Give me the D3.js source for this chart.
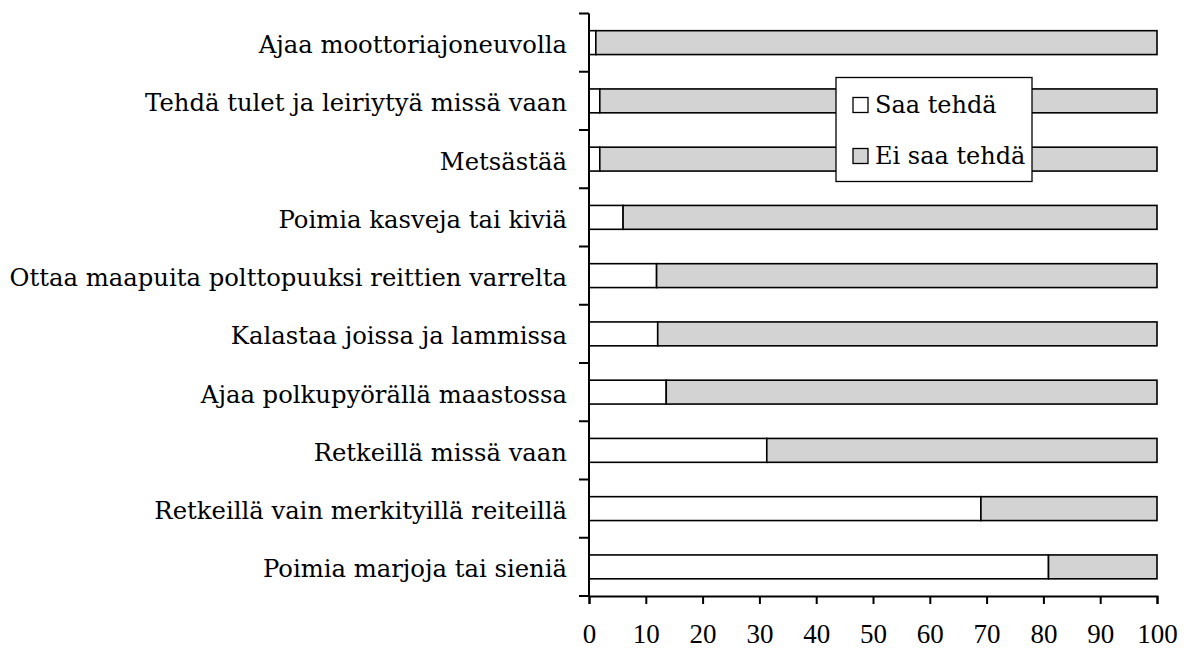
<!DOCTYPE html>
<html>
<head>
<meta charset="utf-8">
<script src="https://cdn.jsdelivr.net/npm/d3@7"></script>
<style>
  html, body { margin: 0; padding: 0; background: #fff; }
  svg text { font-family: "DejaVu Serif", "Liberation Serif", serif; fill: #000; }
</style>
</head>
<body>
<svg id="chart" width="1186" height="649"></svg>
<script>
// Activities, listed top to bottom
const categories = [
  "Ajaa moottoriajoneuvolla",
  "Tehdä tulet ja leiriytyä missä vaan",
  "Metsästää",
  "Poimia kasveja tai kiviä",
  "Ottaa maapuita polttopuuksi reittien varrelta",
  "Kalastaa joissa ja lammissa",
  "Ajaa polkupyörällä maastossa",
  "Retkeillä missä vaan",
  "Retkeillä vain merkityillä reiteillä",
  "Poimia marjoja tai sieniä"
];
// Share (%) answering "allowed"
const saaTehda = [1.2, 1.9, 1.9, 6.0, 11.9, 12.1, 13.6, 31.3, 69.0, 80.9];
// Share (%) answering "not allowed"
const eiSaaTehda = [98.8, 98.1, 98.1, 94.0, 88.1, 87.9, 86.4, 68.7, 31.0, 19.1];
const seriesNames = ["Saa tehdä", "Ei saa tehdä"];
const xTicks = [0, 10, 20, 30, 40, 50, 60, 70, 80, 90, 100];

const svg = d3.select("#chart");
const margin = { left: 589, top: 13.5, right: 29, bottom: 53 };
const W = 1186, H = 649;
const innerW = W - margin.left - margin.right;
const innerH = H - margin.top - margin.bottom;
const fills = ["#ffffff", "#d3d3d3"];
const labelSize = 24.3;

const g = svg.append("g").attr("transform", `translate(${margin.left},${margin.top})`);

const x = d3.scaleLinear().domain([0, 100]).range([0, innerW]);
const y = d3.scaleBand().domain(categories).range([0, innerH]).padding(0);
const barH = y.bandwidth() * 0.41;

// Stacked rows
const rows = categories.map((c, i) => ({ cat: c, saa: saaTehda[i], ei: eiSaaTehda[i] }));
const stack = d3.stack().keys(["saa", "ei"])(rows);

stack.forEach((layer, k) => {
  g.append("g").selectAll("rect")
    .data(layer)
    .join("rect")
    .attr("x", d => x(d[0]))
    .attr("width", d => x(d[1]) - x(d[0]))
    .attr("y", d => y(d.data.cat) + (y.bandwidth() - barH) / 2)
    .attr("height", barH)
    .attr("fill", fills[k])
    .attr("stroke", "#000")
    .attr("stroke-width", 1.6);
});

// Category axis: line with ticks at band boundaries
const yAxis = g.append("g");
yAxis.append("line")
  .attr("x1", 0).attr("x2", 0)
  .attr("y1", 0).attr("y2", innerH + 1)
  .attr("stroke", "#000").attr("stroke-width", 2);
const boundaries = categories.map(c => y(c)).concat([innerH]);
yAxis.selectAll("line.tick")
  .data(boundaries)
  .join("line")
  .attr("class", "tick")
  .attr("x1", -10).attr("x2", 0)
  .attr("y1", d => d).attr("y2", d => d)
  .attr("stroke", "#000").attr("stroke-width", 2);
yAxis.selectAll("text")
  .data(categories)
  .join("text")
  .attr("x", -22)
  .attr("y", d => y(d) + y.bandwidth() / 2)
  .attr("dy", "0.43em")
  .attr("text-anchor", "end")
  .attr("font-size", labelSize)
  .text(d => d);

// Value axis
const xAxis = g.append("g")
  .attr("transform", `translate(0,${innerH})`)
  .call(d3.axisBottom(x).tickValues(xTicks).tickSize(8).tickPadding(20).tickFormat(d3.format("d")));
xAxis.select(".domain").attr("stroke", "#000").attr("stroke-width", 2);
xAxis.selectAll(".tick line").attr("stroke", "#000").attr("stroke-width", 2);
xAxis.selectAll(".tick text")
  .attr("font-size", 27)
  .style("font-family", "'Liberation Serif', serif")
  .attr("fill", "#000");

// Legend
const legend = svg.append("g").attr("transform", "translate(836,77.5)");
legend.append("rect")
  .attr("width", 196).attr("height", 104)
  .attr("fill", "#fff").attr("stroke", "#000").attr("stroke-width", 1.3);
seriesNames.forEach((name, i) => {
  const row = legend.append("g").attr("transform", `translate(17,${20 + i * 51})`);
  row.append("rect")
    .attr("width", 15).attr("height", 15)
    .attr("fill", fills[i]).attr("stroke", "#000").attr("stroke-width", 1.3);
  row.append("text")
    .attr("x", 22).attr("y", 15.5)
    .attr("font-size", 24)
    .text(name);
});
</script>
</body>
</html>
